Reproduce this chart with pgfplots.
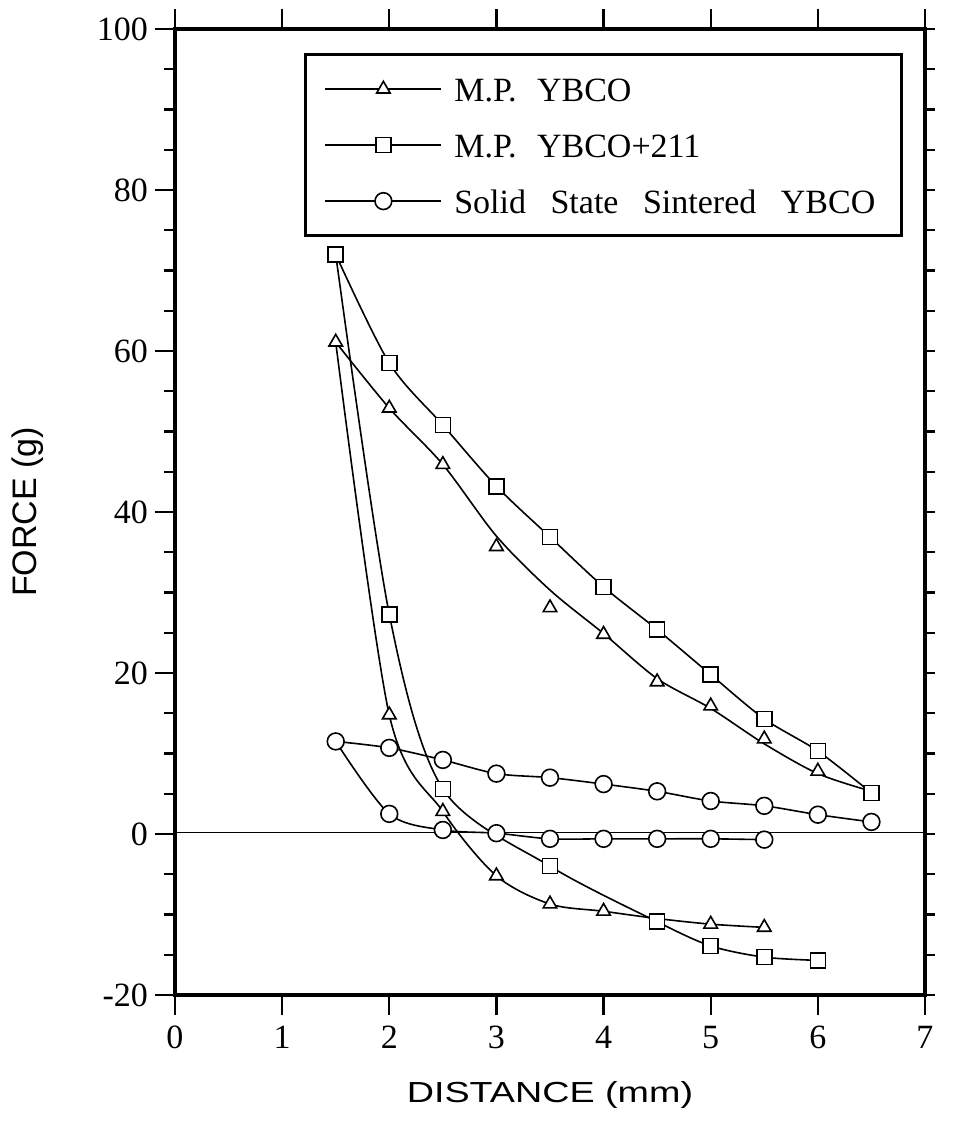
\documentclass[border=0pt]{standalone}
\usepackage{fontspec}
\setmainfont{Liberation Serif}
\newfontfamily\hv{Liberation Sans}
\newfontfamily\hvw[FakeStretch=1.3]{Liberation Sans}
\usepackage{pgfplots}
\pgfplotsset{compat=1.18}
\newcommand\w{\hspace{0.6em}}
\newcommand\ww{\hspace{0.72em}}

\begin{document}
\begin{tikzpicture}
\pgfplotsset{
  frame/.style={scale only axis, width=375pt, height=483pt,
    xmin=0, xmax=7, ymin=-20, ymax=100,
    axis line style={line width=1.8pt}, tick align=outside,
    every tick/.append style={line width=1.2pt, black}},
  dl/.style={line width=0.8pt, black, smooth, no marks, forget plot},
  dm/.style={only marks, forget plot, black, mark options={fill=white, line width=0.8pt, solid}},
}
\begin{axis}[frame, name=ax,
  xtick={0,...,7}, ytick={-20,0,...,100}, minor y tick num=3,
  xtick pos=left, ytick pos=left,
  major tick length=10pt, minor tick length=5.5pt,
  tick label style={font=\fontsize{17}{20}\selectfont},
  xticklabel style={yshift=-2pt},
  /pgf/number format/assume math mode=true,
  xlabel={\hvw\fontsize{14.5}{17}\selectfont DISTANCE (mm)},
  ylabel={\hv\fontsize{17}{20}\selectfont FORCE (g)},
  xlabel style={at={(axis description cs:0.5,-0.1035)}, anchor=center},
  ylabel style={at={(axis description cs:-0.196,0.5)}, anchor=center},
  legend style={at={(rel axis cs:0.172,0.975)}, anchor=north west, draw=black,
    line width=1.5pt, inner xsep=9.5pt, inner ysep=9.5pt, row sep=12.5pt,
    column sep=6pt, font=\fontsize{17}{20}\selectfont, cells={anchor=west},
    nodes={inner sep=0pt}},
  legend image code/.code={\draw[line width=0.9pt, mark repeat=2, mark phase=2, #1]
    plot coordinates {(0pt,0pt) (29pt,0pt) (58pt,0pt)};},
]
\addlegendimage{black, line width=0.9pt, mark=triangle*, mark size=3.9pt, mark options={fill=white, line width=0.8pt, solid}}
\addlegendentry{\makebox[214pt][l]{\strut M.P.\w YBCO}}
\addlegendimage{black, line width=0.9pt, mark=square*, mark size=3.75pt, mark options={fill=white, line width=0.8pt, solid}}
\addlegendentry{\makebox[214pt][l]{\strut M.P.\w YBCO+211}}
\addlegendimage{black, line width=0.9pt, mark=*, mark size=4.2pt, mark options={fill=white, line width=0.8pt, solid}}
\addlegendentry{\makebox[214pt][l]{\strut Solid\ww State\ww Sintered\ww YBCO}}

% zero line
\addplot[line width=0.7pt, black, forget plot] coordinates {(0,0.2) (7,0.2)};

% ---- lines ----
% M.P. YBCO+211
\addplot[dl] coordinates {(1.5,72) (2,58.5) (2.5,50.8) (3,43.2) (3.5,36.9) (4,30.7) (4.5,25.4) (5,19.8) (5.5,14.3) (6,10.3) (6.5,5.1)};
\addplot[dl] coordinates {(1.5,72) (2,27.3) (2.5,5.6) (3.5,-4.0) (4.5,-10.9) (5,-13.9) (5.5,-15.3) (6,-15.7)};
% M.P. YBCO
\addplot[dl] coordinates {(1.5,61.1) (2,52.9) (2.5,45.9) (3,37.0) (3.5,30.3) (4,24.9) (4.5,19.3) (5,15.6) (5.5,11.2) (6,7.5) (6.5,5.3)};
\addplot[dl] coordinates {(1.5,61.1) (2,14.8) (2.5,2.8) (3,-5.2) (3.5,-8.7) (4,-9.6) (4.5,-10.5) (5,-11.2) (5.5,-11.6)};
% Solid state sintered
\addplot[dl] coordinates {(1.5,11.5) (2,10.7) (2.5,9.2) (3,7.5) (3.5,7.0) (4,6.2) (4.5,5.3) (5,4.1) (5.5,3.5) (6,2.4) (6.5,1.5)};
\addplot[dl] coordinates {(1.5,11.5) (2,2.5) (2.5,0.5) (3,0.1) (3.5,-0.6) (4,-0.6) (4.5,-0.6) (5,-0.6) (5.5,-0.7)};

% ---- marks ----
\addplot[dm, mark=triangle*, mark size=3.9pt] coordinates {(1.5,61.1) (2,52.9) (2.5,45.9) (3,35.7) (3.5,28.1) (4,24.8) (4.5,18.9) (5,15.9) (5.5,11.8) (6,7.8)
  (2,14.8) (2.5,2.8) (3,-5.2) (3.5,-8.7) (4,-9.6) (5,-11.2) (5.5,-11.6)};
\addplot[dm, mark=*, mark size=4.2pt] coordinates {(1.5,11.5) (2,10.7) (2.5,9.2) (3,7.5) (3.5,7.0) (4,6.2) (4.5,5.3) (5,4.1) (5.5,3.5) (6,2.4) (6.5,1.5)
  (2,2.5) (2.5,0.5) (3,0.1) (3.5,-0.6) (4,-0.6) (4.5,-0.6) (5,-0.6) (5.5,-0.7)};
\addplot[dm, mark=square*, mark size=3.75pt] coordinates {(1.5,72) (2,58.5) (2.5,50.8) (3,43.2) (3.5,36.9) (4,30.7) (4.5,25.4) (5,19.8) (5.5,14.3) (6,10.3) (6.5,5.1)
  (2,27.3) (2.5,5.6) (3.5,-4.0) (4.5,-10.9) (5,-13.9) (5.5,-15.3) (6,-15.7)};
\end{axis}

% right-side ticks
\begin{axis}[frame, xtick=\empty, ytick={-20,-15,...,100}, yticklabels={}, ytick pos=right, major tick length=5pt]
\end{axis}
% top ticks
\begin{axis}[frame, ytick=\empty, xtick={0,...,7}, xticklabels={}, xtick pos=right, major tick length=10pt]
\end{axis}

\pgfresetboundingbox
\path ([xshift=-87.5pt,yshift=-72.5pt]ax.south west) rectangle ([xshift=14pt,yshift=14.5pt]ax.north east);
\end{tikzpicture}
\end{document}
